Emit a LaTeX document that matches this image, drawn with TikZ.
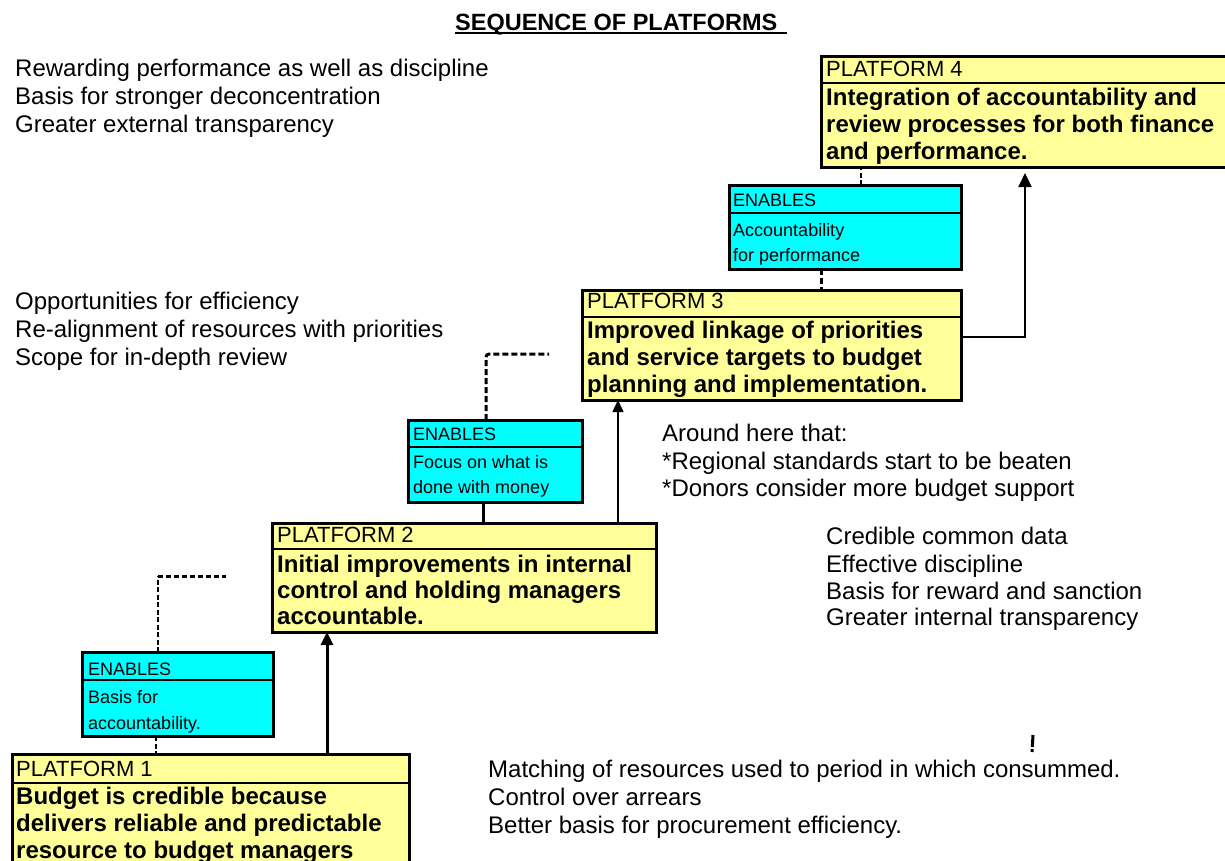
\documentclass[tikz,border=0pt]{standalone}
\usepackage{fontspec}
\setmainfont{Liberation Sans}
\usetikzlibrary{arrows.meta}
\definecolor{platyellow}{HTML}{FFFF99}
\definecolor{encyan}{HTML}{00FFFF}

\begin{document}
\begin{tikzpicture}[x=1pt,y=-1pt,
  platbox/.style={draw,line width=3pt,fill=platyellow,inner sep=0pt,outer sep=0pt,anchor=north west},
  enbox/.style={draw,line width=3pt,fill=encyan,inner sep=0pt,outer sep=0pt,anchor=north west},
  divider/.style={line width=2.5pt},
  hdrtxt/.style={font=\fontsize{22}{26}\selectfont,inner sep=0pt,anchor=base west},
  bodytxt/.style={font=\fontsize{24}{27}\selectfont\bfseries,inner sep=0pt,anchor=base west},
  entxt/.style={font=\fontsize{18}{22}\selectfont,inner sep=0pt,anchor=base west},
  note/.style={font=\fontsize{24}{28}\selectfont,inner sep=0pt,anchor=base west},
  heavyarrow/.style={line width=3pt,-{Triangle[length=13pt,width=12pt]}},
  thinarrow/.style={line width=1.5pt,-{Triangle[length=12pt,width=11pt]}},
  midarrow/.style={line width=2pt,-{Triangle[length=14pt,width=13pt]}},
  thindash/.style={line width=1.6pt,dash pattern=on 5pt off 2.5pt},
  heavydash/.style={line width=3pt,dash pattern=on 6pt off 3pt},
]
\useasboundingbox (0,0) rectangle (1225,860);
\fill[white] (0,0) rectangle (1225,860);
\clip (0,0) rectangle (1225,860);

% title
\node[font=\fontsize{23.5}{28}\selectfont\bfseries,inner sep=0pt,anchor=base west] (title) at (455,30) {SEQUENCE OF PLATFORMS};
\draw[line width=2pt] (title.base west) ++(0,3) coordinate (ul1) -- (787,33) coordinate (ul2);

% helper x positions for the connectors
\coordinate (x156) at (156,0);
\coordinate (x158) at (158,0);
\coordinate (x327) at (327,0);
\coordinate (x483) at (483,0);
\coordinate (x486) at (486,0);
\coordinate (x618) at (618,0);
\coordinate (x821) at (821,0);
\coordinate (x861) at (861,0);
\coordinate (x1025) at (1025,0);
\coordinate (y337) at (0,337);

% platform boxes
\node[platbox,minimum width=397pt,minimum height=130pt] (p1) at (12,754) {};
\draw[divider] ([yshift=-29pt]p1.north west) -- ([yshift=-29pt]p1.north east);
\node[platbox,minimum width=384pt,minimum height=109pt] (p2) at (272,523) {};
\draw[divider] ([yshift=-26pt]p2.north west) -- ([yshift=-26pt]p2.north east);
\node[platbox,minimum width=379pt,minimum height=110pt] (p3) at (582,290) {};
\draw[divider] ([yshift=-27pt]p3.north west) -- ([yshift=-27pt]p3.north east);
\node[platbox,minimum width=420pt,minimum height=111pt] (p4) at (821,56) {};
\draw[divider] ([yshift=-27pt]p4.north west) -- ([yshift=-27pt]p4.north east);

% enabling boxes
\node[enbox,minimum width=191pt,minimum height=84pt] (e1) at (82,652) {};
\draw[divider] ([yshift=-28pt]e1.north west) -- ([yshift=-28pt]e1.north east);
\node[enbox,minimum width=174pt,minimum height=82pt] (e2) at (408,420) {};
\draw[divider] ([yshift=-27pt]e2.north west) -- ([yshift=-27pt]e2.north east);
\node[enbox,minimum width=232pt,minimum height=84pt] (e3) at (729,185) {};
\draw[divider] ([yshift=-28pt]e3.north west) -- ([yshift=-28pt]e3.north east);

% platform texts
\node[hdrtxt] (p1h) at (16,776) {PLATFORM 1};
\node[bodytxt] (p1a) at (16,804) {Budget is credible because};
\node[bodytxt] (p1b) at (16,831) {delivers reliable and predictable};
\node[bodytxt] (p1c) at (16,858) {resource to budget managers};

\node[hdrtxt] (p2h) at (277,542) {PLATFORM 2};
\node[bodytxt] (p2a) at (277,572) {Initial improvements in internal};
\node[bodytxt] (p2b) at (277,598) {control and holding managers};
\node[bodytxt] (p2c) at (277,624) {accountable.};

\node[hdrtxt] (p3h) at (587,308) {PLATFORM 3};
\node[bodytxt] (p3a) at (587,338) {Improved linkage of priorities};
\node[bodytxt] (p3b) at (587,365) {and service targets to budget};
\node[bodytxt] (p3c) at (587,392) {planning and implementation.};

\node[hdrtxt] (p4h) at (826,76) {PLATFORM 4};
\node[bodytxt] (p4a) at (826,105) {Integration of accountability and};
\node[bodytxt] (p4b) at (826,132) {review processes for both finance};
\node[bodytxt] (p4c) at (826,159) {and performance.};

% enabling texts
\node[entxt] (e1h) at (88,675) {ENABLES};
\node[entxt] (e1a) at (88,703) {Basis for};
\node[entxt] (e1b) at (88,729) {accountability.};

\node[entxt] (e2h) at (413,440) {ENABLES};
\node[entxt] (e2a) at (413,468) {Focus on what is};
\node[entxt] (e2b) at (413,493) {done with money};

\node[entxt] (e3h) at (733,206) {ENABLES};
\node[entxt] (e3a) at (733,236) {Accountability};
\node[entxt] (e3b) at (733,261) {for performance};

% free notes
\node[note] (n1) at (15,76) {Rewarding performance as well as discipline};
\node[note] (n2) at (15,104) {Basis for stronger deconcentration};
\node[note] (n3) at (15,132) {Greater external transparency};

\node[note] (n4) at (15,309) {Opportunities for efficiency};
\node[note] (n5) at (15,337) {Re-alignment of resources with priorities};
\node[note] (n6) at (15,365) {Scope for in-depth review};

\node[note] (n7) at (662,441) {Around here that:};
\node[note] (n8) at (662,469) {*Regional standards start to be beaten};
\node[note] (n9) at (662,496) {*Donors consider more budget support};

\node[note] (n10) at (826,544) {Credible common data};
\node[note] (n11) at (826,572) {Effective discipline};
\node[note] (n12) at (826,599) {Basis for reward and sanction};
\node[note] (n13) at (826,625) {Greater internal transparency};

\node[note] (n14) at (488,777) {Matching of resources used to period in which consummed.};
\node[note] (n15) at (488,805) {Control over arrears};
\node[note] (n16) at (488,833) {Better basis for procurement efficiency.};

% rising arrows between platforms
\draw[heavyarrow] (x327 |- p1.north) -- (x327 |- p2.south);
\draw[thinarrow] (x618 |- p2.north) -- (x618 |- p3.south);
\draw[midarrow,shorten >=6pt] (p3.east |- y337) -| (x1025 |- p4.south);

% links between enabling boxes and platforms
\coordinate (e1bend) at (158,576);
\coordinate (e1end) at (226,576);
\draw[thindash] (x158 |- e1.north) -- (e1bend);
\draw[heavydash,dash pattern=on 5pt off 3pt] (e1bend) -- (e1end);
\draw[thindash] (x156 |- e1.south) -- (x156 |- p1.north);

\coordinate (e2bend) at (486,354);
\coordinate (e2end) at (549,354);
\draw[heavydash,rounded corners=3pt] (x486 |- e2.north) -- (e2bend) -- (e2end);
\draw[line width=3pt] (x483 |- e2.south) -- (x483 |- p2.north);

\draw[heavydash] (x821 |- e3.south) -- (x821 |- p3.north);
\draw[thindash] (x861 |- e3.north) -- (x861 |- p4.south);

% short stray mark
\coordinate (tickA) at (1033,735);
\coordinate (tickB) at (1032,752);
\draw[line width=3pt,dash pattern=on 12pt off 2pt] (tickA) -- (tickB);
\end{tikzpicture}
\end{document}
